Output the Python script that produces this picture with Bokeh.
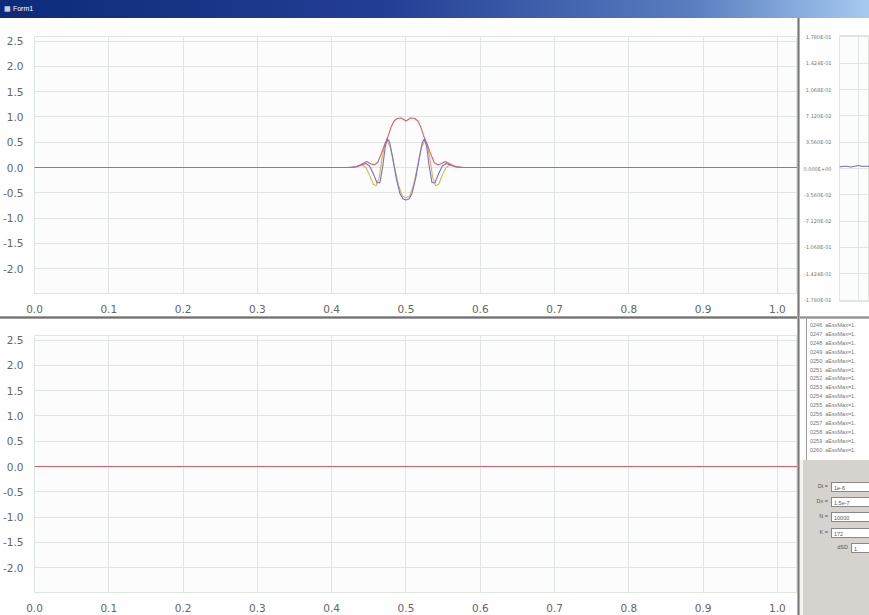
from bokeh.plotting import figure
from bokeh.models import Range1d, FixedTicker, BasicTicker, PrintfTickFormatter, CustomJSTickFormatter, Div
from bokeh.layouts import column, row
from bokeh.embed import file_html
from bokeh.resources import INLINE

# ---------------- data ----------------
x_ticks = [0.0, 0.1, 0.2, 0.3, 0.4, 0.5, 0.6, 0.7, 0.8, 0.9, 1.0]
y_ticks = [-2.0, -1.5, -1.0, -0.5, 0.0, 0.5, 1.0, 1.5, 2.0, 2.5]

# top panel: real part (blue)
re_x = [0.0, 0.42, 0.432, 0.440, 0.446, 0.451, 0.456, 0.461, 0.465, 0.469,
        0.472, 0.475, 0.478, 0.482, 0.487, 0.492, 0.496, 0.500, 0.504, 0.508,
        0.513, 0.518, 0.522, 0.525, 0.528, 0.531, 0.535, 0.539, 0.544, 0.549,
        0.554, 0.560, 0.568, 0.58, 1.03]
re_y = [0.0, 0.0, 0.01, 0.05, 0.08, 0.03, -0.12, -0.30, -0.30, 0.05,
        0.40, 0.57, 0.50, 0.20, -0.22, -0.52, -0.62, -0.64, -0.62, -0.52,
        -0.22, 0.20, 0.50, 0.57, 0.40, 0.05, -0.30, -0.30, -0.12, 0.03,
        0.08, 0.05, 0.01, 0.0, 0.0]

# top panel: imaginary part (yellow)
im_x = [0.0, 0.425, 0.433, 0.440, 0.446, 0.451, 0.456, 0.460, 0.464, 0.468,
        0.472, 0.475, 0.479, 0.484, 0.490, 0.495, 0.500, 0.505, 0.510, 0.516,
        0.521, 0.525, 0.528, 0.532, 0.536, 0.540, 0.544, 0.549, 0.554, 0.560,
        0.567, 0.575, 1.03]
im_y = [0.0, 0.0, 0.02, 0.06, 0.0, -0.15, -0.33, -0.36, -0.20, 0.20,
        0.48, 0.52, 0.40, 0.05, -0.35, -0.56, -0.60, -0.56, -0.35, 0.05,
        0.40, 0.52, 0.48, 0.20, -0.20, -0.36, -0.33, -0.15, 0.0, 0.06,
        0.02, 0.0, 0.0]

# top panel: envelope (red)
env_x = [0.0, 0.425, 0.435, 0.442, 0.447, 0.452, 0.457, 0.462, 0.467, 0.472,
         0.476, 0.480, 0.484, 0.488, 0.494, 0.500, 0.506, 0.512, 0.516, 0.520,
         0.524, 0.528, 0.533, 0.538, 0.543, 0.548, 0.553, 0.558, 0.565, 0.575,
         1.03]
env_y = [0.0, 0.0, 0.02, 0.08, 0.12, 0.08, 0.05, 0.10, 0.28, 0.48,
         0.62, 0.80, 0.92, 0.97, 0.98, 0.92, 0.98, 0.97, 0.92, 0.80,
         0.62, 0.48, 0.28, 0.10, 0.05, 0.08, 0.12, 0.08, 0.02, 0.0,
         0.0]

# bottom panel: flat red line
bot_x = [0.0, 1.03]
bot_y = [0.0, 0.0]

# right mini panel
mini_ticks = [-0.178, -0.1424, -0.1068, -0.0712, -0.0356, 0.0, 0.0356, 0.0712, 0.1068, 0.1424, 0.178]
mini_t = [0, 1, 2, 3, 4, 5, 6, 7, 8]
mini_v = [0.002, 0.003, 0.003, 0.002, 0.003, 0.004, 0.003, 0.003, 0.003]

log_ids = list(range(246, 261))
param_labels = ["Dt =", "Dx =", "N =", "K =", "dSD"]
param_values = ["1e-6", "1.5e-7", "10000", "172", "1"]

# ---------------- styling ----------------
RED = "#d4606c"
BLUE = "#7070d8"
YELLOW = "#d9b54c"
GRID = "#dfe6df"
LABEL = "#666666"
FONT = "DejaVu Sans"


def make_plot(h, top):
    p = figure(width=797, height=h, x_range=Range1d(0, 1.027), y_range=Range1d(-2.49, 2.59),
               output_backend="svg", toolbar_location=None,
               min_border_left=30, min_border_right=0, min_border_top=top, min_border_bottom=23)
    p.background_fill_color = "#fbfcfb"
    p.border_fill_color = "#fdfefd"
    p.outline_line_color = GRID
    for ax, tk in ((p.xaxis, x_ticks), (p.yaxis, y_ticks)):
        ax.ticker = FixedTicker(ticks=tk)
        ax.formatter = PrintfTickFormatter(format="%.1f")
        ax.axis_line_color = None
        ax.major_tick_line_color = None
        ax.minor_tick_line_color = None
        ax.major_label_text_color = LABEL
        ax.major_label_text_font = FONT
        ax.major_label_text_font_size = "10.5px"
        ax.major_label_standoff = 5
    p.xgrid.ticker = FixedTicker(ticks=x_ticks)
    p.ygrid.ticker = FixedTicker(ticks=y_ticks)
    p.grid.grid_line_color = GRID
    p.grid.grid_line_width = 1
    return p


p1 = make_plot(298, 18)
p1.line(im_x, im_y, line_color=YELLOW, line_width=1.1)
p1.line(re_x, re_y, line_color=BLUE, line_width=1.1)
p1.line(env_x, env_y, line_color=RED, line_width=1.1)

p2 = make_plot(296, 16)
p2.line(bot_x, bot_y, line_color=RED, line_width=1.1)

# mini plot on the right
pm = figure(width=69, height=298, x_range=Range1d(0, 8), y_range=Range1d(-0.18, 0.18),
            output_backend="svg", toolbar_location=None,
            min_border_left=38, min_border_right=0, min_border_top=17, min_border_bottom=15)
pm.background_fill_color = "#fbfcfb"
pm.border_fill_color = "#fdfefd"
pm.outline_line_color = GRID
pm.xaxis.visible = False
pm.yaxis.ticker = FixedTicker(ticks=mini_ticks)
pm.yaxis.formatter = CustomJSTickFormatter(code="""
    const s = tick.toExponential(3).toUpperCase();
    const m = s.split('E');
    let e = parseInt(m[1]);
    const sign = e < 0 ? '-' : '+';
    e = Math.abs(e);
    return m[0] + 'E' + sign + (e < 10 ? '0' : '') + e;
""")
pm.yaxis.axis_line_color = None
pm.yaxis.major_tick_line_color = None
pm.yaxis.minor_tick_line_color = None
pm.yaxis.major_label_text_color = "#777777"
pm.yaxis.major_label_text_font = FONT
pm.yaxis.major_label_text_font_size = "5px"
pm.yaxis.major_label_standoff = 2
pm.grid.grid_line_color = GRID
pm.ygrid.ticker = FixedTicker(ticks=mini_ticks)
pm.xgrid.ticker = BasicTicker(desired_num_ticks=2)
pm.line(mini_t, mini_v, line_color="#6a6a9a", line_width=1)

# window chrome and side widgets
title = Div(text="&#9638;&nbsp;Form1", width=869, height=18, margin=0,
            styles={"background": "linear-gradient(to right, #0c2a7a, #243f96 45%, #5a7fc0 80%, #a6caf0)",
                    "color": "white", "font-family": "Liberation Sans", "font-size": "7px",
                    "line-height": "18px", "padding-left": "4px", "box-sizing": "border-box"})

hsep = Div(text="", width=797, height=3, margin=0,
           styles={"background": "linear-gradient(to bottom, #b8b8b8, #707070, #b8b8b8)"})
hsep2 = Div(text="", width=69, height=3, margin=0,
            styles={"background": "linear-gradient(to bottom, #c8c8c8, #909090, #c8c8c8)"})
vsep = Div(text="", width=3, height=597, margin=0,
           styles={"background": "linear-gradient(to right, #c8c8c8, #7a7a7a, #c8c8c8)"})

log_lines = "".join(
    f"<div style='white-space:nowrap'>{i:04d}&nbsp;&nbsp;aEsxMax=1.</div>" for i in log_ids)
log_div = Div(text=f"<div style='margin-left:6px;border-left:1px solid #999;padding:2px 0 0 3px;"
                   f"height:141px;box-sizing:border-box;font-family:Liberation Sans;font-size:5.5px;"
                   f"line-height:8.9px;color:#777;overflow:hidden'>{log_lines}</div>",
              width=69, height=141, margin=0, styles={"background": "#fdfefd"})

rows_html = ""
for k, (lab, val) in enumerate(zip(param_labels, param_values)):
    lw = 48 if k == len(param_labels) - 1 else 28
    rows_html += (f"<div style='display:flex;align-items:center;height:15.3px;white-space:nowrap'>"
                  f"<span style='width:{lw}px;min-width:{lw}px;text-align:right;padding-right:3px;"
                  f"box-sizing:border-box'>{lab}</span>"
                  f"<span style='display:inline-block;width:40px;min-width:40px;height:10px;"
                  f"background:white;border:1px solid #888;line-height:10px;padding-left:2px'>{val}</span></div>")
panel = Div(text=f"<div style='padding:19px 0 0 3px;font-family:Liberation Sans;font-size:5.5px;"
                 f"color:#555;width:120px'>{rows_html}</div>",
            width=69, height=155, margin=0,
            styles={"background": "linear-gradient(to right, #f4f4f2 0px, #f4f4f2 3px, #d6d3ce 3px)",
                    "overflow": "hidden"})

layout = column(title,
                row(column(p1, hsep, p2, spacing=0), vsep,
                    column(pm, hsep2, log_div, panel, spacing=0), spacing=0),
                spacing=0)

open("out.html", "w").write(file_html(layout, INLINE))
